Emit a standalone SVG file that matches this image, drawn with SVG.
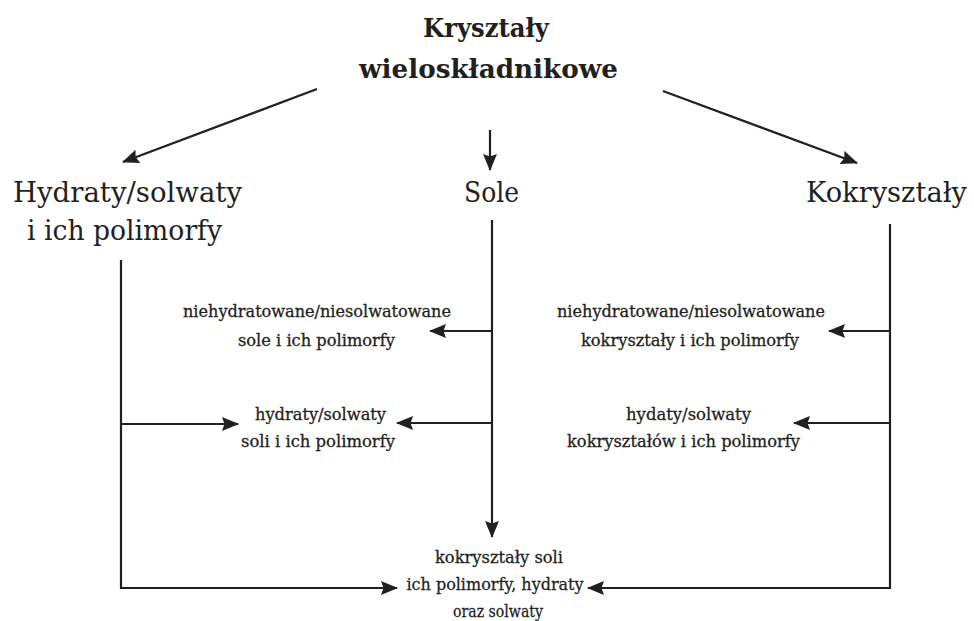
<svg xmlns="http://www.w3.org/2000/svg" width="974" height="621" viewBox="0 0 974 621">
<defs>
<style>
text{font-family:"DejaVu Serif","Liberation Serif",serif;fill:#231f20;text-anchor:middle}
.title{font-size:26px;font-weight:bold}
.big{font-size:28px}
.small{font-size:16px;stroke:#231f20;stroke-width:0.3}
.bot{font-size:17.5px;stroke:#231f20;stroke-width:0.3}
.conn{stroke:#231f20;stroke-width:2.2;fill:none}
</style>
<marker id="ah" markerUnits="userSpaceOnUse" markerWidth="19" markerHeight="15" refX="16" refY="7" orient="auto">
<path d="M0,0 L17,7 L0,14 L2.5,7 z" fill="#231f20"/>
</marker>
</defs>
<rect width="974" height="621" fill="#ffffff"/>
<g id="root">
<text class="title" x="486" y="37" textLength="126" lengthAdjust="spacingAndGlyphs">Kryształy</text>
<text class="title" x="488.5" y="78" textLength="259" lengthAdjust="spacingAndGlyphs">wieloskładnikowe</text>
</g>
<g id="hydraty">
<text class="big" x="127.5" y="202" textLength="229" lengthAdjust="spacingAndGlyphs">Hydraty/solwaty</text>
<text class="big" x="124.5" y="240" textLength="195" lengthAdjust="spacingAndGlyphs">i ich polimorfy</text>
</g>
<g id="sole">
<text class="big" x="491.5" y="202" textLength="55" lengthAdjust="spacingAndGlyphs">Sole</text>
</g>
<g id="kokrysztaly">
<text class="big" x="886.5" y="202" textLength="161" lengthAdjust="spacingAndGlyphs">Kokryształy</text>
</g>
<g id="sole-niehydrat">
<text class="small" x="317" y="317" textLength="268" lengthAdjust="spacingAndGlyphs">niehydratowane/niesolwatowane</text>
<text class="small" x="316.5" y="346" textLength="157" lengthAdjust="spacingAndGlyphs">sole i ich polimorfy</text>
</g>
<g id="sole-hydraty">
<text class="small" x="320.5" y="420" textLength="131" lengthAdjust="spacingAndGlyphs">hydraty/solwaty</text>
<text class="small" x="318" y="447" textLength="154" lengthAdjust="spacingAndGlyphs">soli i ich polimorfy</text>
</g>
<g id="kokr-niehydrat">
<text class="small" x="691" y="317" textLength="268" lengthAdjust="spacingAndGlyphs">niehydratowane/niesolwatowane</text>
<text class="small" x="690" y="346" textLength="218" lengthAdjust="spacingAndGlyphs">kokryształy i ich polimorfy</text>
</g>
<g id="kokr-hydraty">
<text class="small" x="688.5" y="420" textLength="125" lengthAdjust="spacingAndGlyphs">hydaty/solwaty</text>
<text class="small" x="683.5" y="447" textLength="233" lengthAdjust="spacingAndGlyphs">kokryształów i ich polimorfy</text>
</g>
<g id="kokr-soli">
<text class="bot" x="499" y="563" textLength="128" lengthAdjust="spacingAndGlyphs">kokryształy soli</text>
<text class="bot" x="495" y="590" textLength="177" lengthAdjust="spacingAndGlyphs">ich polimorfy, hydraty</text>
<text class="bot" x="498" y="617" textLength="90" lengthAdjust="spacingAndGlyphs">oraz solwaty</text>
</g>
<g id="connectors">
<line class="conn" x1="317" y1="89" x2="123" y2="162" marker-end="url(#ah)"/>
<line class="conn" x1="490" y1="130" x2="490" y2="170" marker-end="url(#ah)"/>
<line class="conn" x1="663" y1="91" x2="857" y2="163" marker-end="url(#ah)"/>
<line class="conn" x1="492" y1="220" x2="492" y2="537" marker-end="url(#ah)"/>
<line class="conn" x1="492" y1="331" x2="430" y2="331" marker-end="url(#ah)"/>
<line class="conn" x1="492" y1="423" x2="397" y2="423" marker-end="url(#ah)"/>
<polyline class="conn" points="121,260 121,588 397,588" marker-end="url(#ah)"/>
<line class="conn" x1="121" y1="424" x2="238" y2="424" marker-end="url(#ah)"/>
<polyline class="conn" points="890,224 890,588 588,588" marker-end="url(#ah)"/>
<line class="conn" x1="890" y1="331" x2="829" y2="331" marker-end="url(#ah)"/>
<line class="conn" x1="890" y1="423" x2="794" y2="423" marker-end="url(#ah)"/>
</g>
</svg>
